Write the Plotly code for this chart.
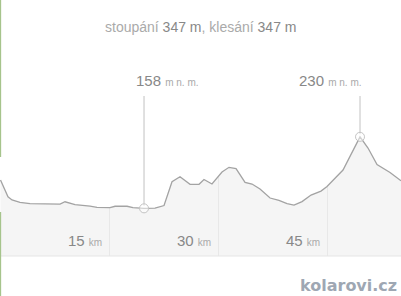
import numpy as np
import plotly.graph_objects as go

# ---- data ----
dist_km = [0.0, 1.03, 1.58, 2.68, 4.06, 6.12, 8.19, 8.88, 10.25, 12.32, 13.28, 15.07,
           15.76, 17.41, 18.23, 19.75, 21.26, 22.50, 23.60, 24.70, 26.08, 27.32, 28.00,
           29.10, 30.48, 31.44, 32.41, 33.65, 34.61, 35.71, 37.09, 38.32, 39.43, 40.39,
           41.49, 42.73, 44.10, 44.93, 47.13, 49.47, 50.57, 51.81, 53.60, 55.11]
elev_m = [186.5, 169.7, 166.4, 164.0, 162.8, 162.3, 162.3, 164.6, 161.8, 160.3, 159.0, 158.8,
          160.1, 160.1, 158.8, 158.0, 158.2, 160.8, 184.8, 189.8, 182.2, 182.2, 187.0,
          182.5, 194.6, 199.3, 198.1, 184.2, 182.5, 177.4, 168.4, 165.9, 162.8, 161.3,
          164.8, 171.4, 175.4, 180.0, 196.6, 230.0, 218.7, 202.1, 194.1, 185.8]
tick_km = [15, 30, 45]
ascent_m = 347
descent_m = 347

# ---- layout constants ----
W, H = 401, 296
M_T, M_B = 57, 40
Y_MIN, Y_MAX = 110, 310.4
X_MIN, X_MAX = -0.07, 55.11
LABEL_LINE_TOP = 271
FONT = "Liberation Sans, Arial, sans-serif"

x = np.array(dist_km)
y = np.array(elev_m)

fig = go.Figure()

# filled area under profile
fig.add_trace(go.Scatter(x=x, y=y, mode="lines", line=dict(width=0),
                         fill="tozeroy", fillcolor="#f5f5f5", hoverinfo="skip"))

# gridlines from base up to profile
for t in tick_km:
    top = float(np.interp(t, x, y))
    fig.add_trace(go.Scatter(x=[t, t], y=[Y_MIN, top], mode="lines",
                             line=dict(color="#e8e8e8", width=1), hoverinfo="skip"))

# min/max marker lines
i_min = int(np.argmin(y))
i_max = int(np.argmax(y))
for i in (i_min, i_max):
    fig.add_trace(go.Scatter(x=[x[i], x[i]], y=[y[i] + 2.5, LABEL_LINE_TOP], mode="lines",
                             line=dict(color="#d9d9d9", width=1.6), hoverinfo="skip"))

# profile line
fig.add_trace(go.Scatter(x=x, y=y, mode="lines", line=dict(color="#a3a3a3", width=1.3),
                         hoverinfo="skip"))

# markers
fig.add_trace(go.Scatter(x=[x[i_min], x[i_max]], y=[y[i_min], y[i_max]], mode="markers",
                         marker=dict(symbol="circle", size=9, color="rgba(255,255,255,0.5)",
                                     line=dict(color="#c4c4c4", width=1)),
                         hoverinfo="skip"))

annotations = []
# title
annotations.append(dict(
    xref="paper", yref="paper", x=0.5, y=1.1005, xanchor="center", yanchor="bottom",
    showarrow=False, font=dict(family=FONT, size=14, color="#aaaaaa"),
    text=f"stoupání <span style='color:#888888'>{ascent_m} m</span>, klesání "
         f"<span style='color:#888888'>{descent_m} m</span>"))

# elevation labels
for i, anchor, shift in ((i_min, "left", -10), (i_max, "right", 4)):
    annotations.append(dict(
        xref="x", yref="paper", x=x[i], y=0.829, xanchor=anchor, yanchor="bottom",
        xshift=shift, showarrow=False, font=dict(family=FONT, size=15, color="#888888"),
        text=f"{y[i]:.0f} <span style='font-size:10px;color:#aaaaaa'>m n. m.</span>"))

# km tick labels
for t in tick_km:
    annotations.append(dict(
        xref="x", yref="paper", x=t, y=0.0276, xanchor="right", yanchor="bottom",
        xshift=-6, showarrow=False, font=dict(family=FONT, size=15, color="#888888"),
        text=f"{t} <span style='font-size:10px;color:#aaaaaa'>km</span>"))

# watermark
annotations.append(dict(
    xref="paper", yref="paper", x=1.0, y=-0.205, xanchor="right", yanchor="bottom",
    xshift=-2, showarrow=False,
    font=dict(family="DejaVu Sans, Verdana, sans-serif", size=16, color="#9ea7b3", weight="bold"),
    text="kolarovi.cz"))

shapes = [
    # bottom border
    dict(type="line", xref="paper", yref="paper", x0=0, x1=1, y0=0, y1=0,
         line=dict(color="#e6e6e6", width=1.2)),
    # green left edge
    dict(type="line", xref="paper", yref="paper", x0=0.001, x1=0.001,
         y0=(256 - 0) / 199, y1=(256 - 157) / 199, line=dict(color="#a6c48c", width=1.5)),
    dict(type="line", xref="paper", yref="paper", x0=0.001, x1=0.001,
         y0=(256 - 212) / 199, y1=(256 - 296) / 199, line=dict(color="#a6c48c", width=1.5)),
]

fig.update_layout(
    width=W, height=H, margin=dict(l=0, r=0, t=M_T, b=M_B, pad=0),
    paper_bgcolor="white", plot_bgcolor="white", showlegend=False,
    xaxis=dict(range=[X_MIN, X_MAX], visible=False, fixedrange=True),
    yaxis=dict(range=[Y_MIN, Y_MAX], visible=False, fixedrange=True),
    annotations=annotations, shapes=shapes,
)

fig.write_html("out.html", config={"displayModeBar": False})
